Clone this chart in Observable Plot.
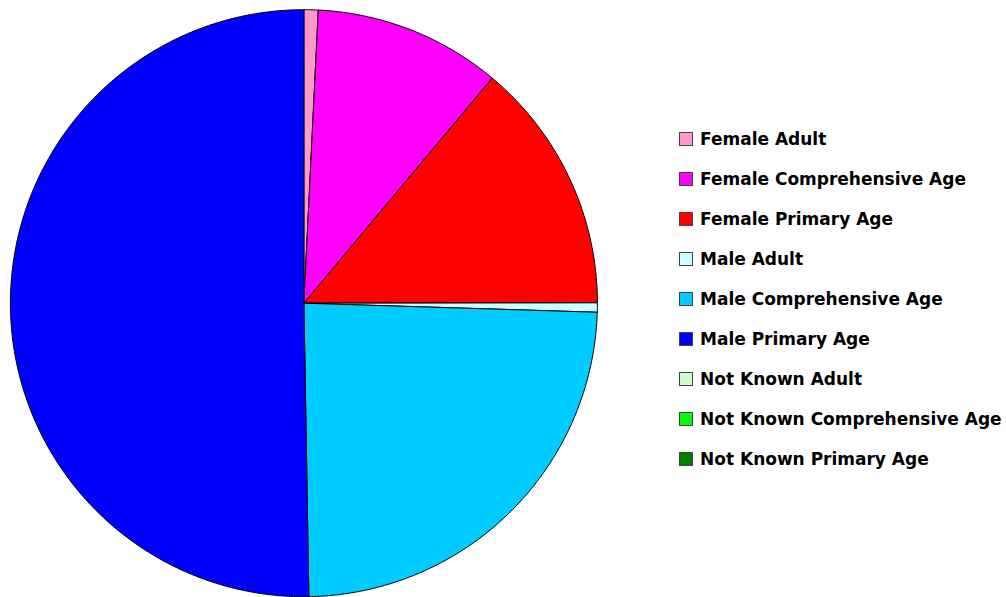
<!DOCTYPE html>
<html>
<head>
<meta charset="utf-8">
<script src="https://cdn.jsdelivr.net/npm/d3@7"></script>
<script src="https://cdn.jsdelivr.net/npm/@observablehq/plot@0.6"></script>
<style>
  html, body { margin: 0; padding: 0; background: #fff; }
  #wrap { position: relative; width: 1006px; height: 597px; overflow: hidden; }
  #chart { position: absolute; left: 0; top: 0; }
  #legend { position: absolute; left: 679px; top: 118.5px;
    font-family: "Comic Sans MS", "DejaVu Sans", sans-serif; font-weight: bold; font-size: 17px; color: #000; }
  .row { height: 40px; display: flex; align-items: center; white-space: nowrap; }
  .sw { width: 12px; height: 12px; border: 1px solid #444; margin-right: 7px; flex: none; }
</style>
</head>
<body>
<div id="wrap"><div id="chart"></div><div id="legend"></div></div>
<script>
const categories = [
  "Female Adult", "Female Comprehensive Age", "Female Primary Age",
  "Male Adult", "Male Comprehensive Age", "Male Primary Age",
  "Not Known Adult", "Not Known Comprehensive Age", "Not Known Primary Age"
];
const values = [0.78, 10.31, 13.89, 0.51, 24.24, 50.27, 0, 0, 0];
const colors = ["#FF99CC", "#FF00FF", "#FF0000", "#CCFFFF", "#00CCFF", "#0000FF", "#CCFFCC", "#00FF00", "#008000"];

// Build slice outlines (center -> arc -> center) from the values
const total = d3.sum(values);
const rows = [];
let acc = 0;
categories.forEach((c, i) => {
  const v = values[i];
  if (v <= 0) { return; }
  const a0 = acc / total * 2 * Math.PI;
  acc += v;
  const a1 = acc / total * 2 * Math.PI;
  rows.push({category: c, px: 0, py: 0});
  const n = Math.max(2, Math.ceil((a1 - a0) / (Math.PI / 360)));
  for (let k = 0; k <= n; k++) {
    const a = a0 + (a1 - a0) * k / n;
    rows.push({category: c, px: Math.sin(a), py: Math.cos(a)});
  }
  rows.push({category: c, px: 0, py: 0});
});

const chart = Plot.plot({
  width: 606,
  height: 597,
  margin: 0,
  x: {domain: [-1, 1], range: [9.9, 596.9], axis: null},
  y: {domain: [-1, 1], range: [596.2, 9.2], axis: null},
  color: {domain: categories, range: colors},
  marks: [
    Plot.line(rows, {x: "px", y: "py", z: "category", fill: "category",
      stroke: "#000", strokeWidth: 1, strokeLinejoin: "round", curve: "linear"})
  ]
});
document.getElementById("chart").appendChild(chart);

const legend = document.getElementById("legend");
categories.forEach((c, i) => {
  const row = document.createElement("div");
  row.className = "row";
  const sw = document.createElement("div");
  sw.className = "sw";
  sw.style.background = colors[i];
  const lab = document.createElement("span");
  lab.textContent = c;
  row.appendChild(sw);
  row.appendChild(lab);
  legend.appendChild(row);
});
</script>
</body>
</html>
